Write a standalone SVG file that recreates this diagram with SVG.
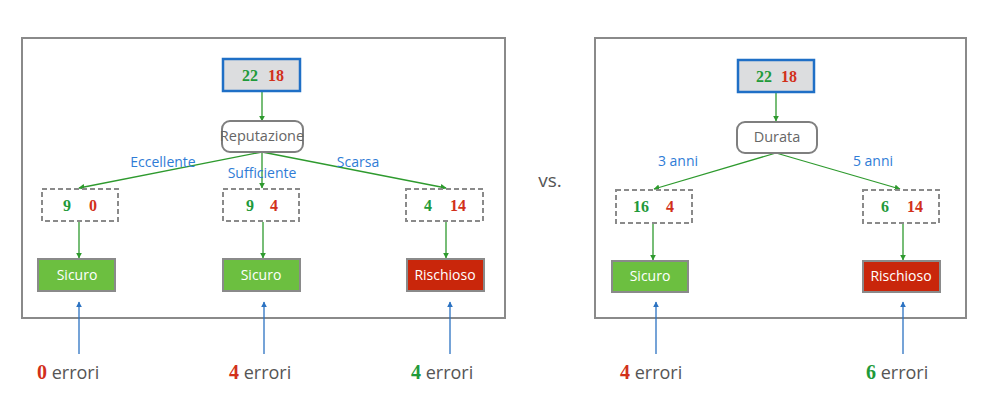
<svg xmlns="http://www.w3.org/2000/svg" width="989" height="417" viewBox="0 0 989 417">
<style>
.panel{fill:#fff;stroke:#8a8a8a;stroke-width:2}
.root{fill:#dcdddf;stroke:#1f6fc6;stroke-width:2.5}
.attr{fill:#fff;stroke:#7f7f7f;stroke-width:2}
.count{fill:#fff;stroke:#8a8a8a;stroke-width:2;stroke-dasharray:5,3}
.safe{fill:#6cbf40;stroke:#8a8a8a;stroke-width:2}
.risk{fill:#c9260b;stroke:#8a8a8a;stroke-width:2}
.num{font-family:"Liberation Serif",serif;font-weight:bold;font-size:16px;text-anchor:middle}
.g{fill:#1f9a3a}
.r{fill:#d2301a}
.lbl{font-family:"Open Sans","Liberation Sans",sans-serif;font-size:14px;fill:#2f7cd6;text-anchor:middle}
.attrt{font-family:"Open Sans","Liberation Sans",sans-serif;font-size:14.5px;fill:#666;text-anchor:middle}
.leaft{font-family:"Open Sans","Liberation Sans",sans-serif;font-size:14px;fill:#fff;text-anchor:middle}
.err{font-family:"Open Sans","Liberation Sans",sans-serif;font-size:18px;fill:#555}
.errn{font-family:"Liberation Serif",serif;font-weight:bold;font-size:20px}
.ge{stroke:#2e9a2e;stroke-width:1.3;fill:none;marker-end:url(#ga)}
.be{stroke:#2b72c2;stroke-width:1.3;fill:none;marker-end:url(#ba)}
</style>
<defs>
<marker id="ga" viewBox="0 0 10 10" refX="9" refY="5" markerWidth="6" markerHeight="6" markerUnits="userSpaceOnUse" orient="auto"><path d="M0,0L10,5L0,10z" fill="#2e9a2e"/></marker>
<marker id="ba" viewBox="0 0 10 10" refX="9" refY="5" markerWidth="6" markerHeight="6" markerUnits="userSpaceOnUse" orient="auto"><path d="M0,0L10,5L0,10z" fill="#2b72c2"/></marker>
</defs>
<rect width="989" height="417" fill="#fff"/>
<rect class="panel" x="22" y="38" width="483" height="280"/>
<rect class="panel" x="595" y="38" width="371" height="280"/>
<text x="550" y="187" font-family="Open Sans, Liberation Sans, sans-serif" font-size="19" fill="#555" text-anchor="middle">vs.</text>

<g id="connectors">
<line class="ge" x1="262" y1="92" x2="262" y2="121"/>
<line class="ge" x1="262" y1="152" x2="79" y2="188"/>
<line class="ge" x1="262" y1="152" x2="262" y2="188"/>
<line class="ge" x1="262" y1="152" x2="446" y2="188"/>
<line class="ge" x1="79" y1="222" x2="79" y2="258"/>
<line class="ge" x1="263" y1="222" x2="263" y2="258"/>
<line class="ge" x1="446" y1="222" x2="446" y2="258"/>
<line class="be" x1="79" y1="354" x2="79" y2="302"/>
<line class="be" x1="264" y1="354" x2="264" y2="302"/>
<line class="be" x1="450" y1="354" x2="450" y2="302"/>
<line class="ge" x1="776" y1="93" x2="776" y2="121"/>
<line class="ge" x1="776" y1="153" x2="654" y2="189"/>
<line class="ge" x1="776" y1="153" x2="900" y2="189"/>
<line class="ge" x1="653" y1="223" x2="653" y2="260"/>
<line class="ge" x1="903" y1="223" x2="903" y2="260"/>
<line class="be" x1="656" y1="354" x2="656" y2="302"/>
<line class="be" x1="903" y1="354" x2="903" y2="302"/>
<text class="lbl" x="163" y="167">Eccellente</text>
<text class="lbl" x="262" y="178">Sufficiente</text>
<text class="lbl" x="358" y="167">Scarsa</text>
<text class="lbl" x="678" y="166">3 anni</text>
<text class="lbl" x="873" y="166">5 anni</text>
</g>

<g id="root1"><rect class="root" x="223" y="59" width="77" height="32"/><text class="num g" x="250" y="81">22</text><text class="num r" x="276" y="81">18</text></g>
<g id="rep"><rect class="attr" x="222" y="121" width="81" height="31" rx="8"/><text class="attrt" x="262" y="141">Reputazione</text></g>
<g id="c1"><rect class="count" x="42" y="189" width="76" height="32"/><text class="num g" x="67" y="211">9</text><text class="num r" x="93" y="211">0</text></g>
<g id="c2"><rect class="count" x="223" y="189" width="76" height="32"/><text class="num g" x="250" y="211">9</text><text class="num r" x="274" y="211">4</text></g>
<g id="c3"><rect class="count" x="406" y="189" width="77" height="32"/><text class="num g" x="428" y="211">4</text><text class="num r" x="458" y="211">14</text></g>
<g id="l1"><rect class="safe" x="38" y="259" width="77" height="32"/><text class="leaft" x="77" y="280">Sicuro</text></g>
<g id="l2"><rect class="safe" x="223" y="259" width="77" height="32"/><text class="leaft" x="261" y="280">Sicuro</text></g>
<g id="l3"><rect class="risk" x="407" y="259" width="77" height="32"/><text class="leaft" x="445" y="280">Rischioso</text></g>
<g id="e1"><text x="37" y="379"><tspan class="errn r">0</tspan><tspan class="err"> errori</tspan></text></g>
<g id="e2"><text x="229" y="379"><tspan class="errn r">4</tspan><tspan class="err"> errori</tspan></text></g>
<g id="e3"><text x="411" y="379"><tspan class="errn g">4</tspan><tspan class="err"> errori</tspan></text></g>

<g id="root2"><rect class="root" x="738" y="60" width="76" height="32"/><text class="num g" x="764" y="82">22</text><text class="num r" x="789" y="82">18</text></g>
<g id="dur"><rect class="attr" x="737" y="122" width="80" height="31" rx="8"/><text class="attrt" x="777" y="142">Durata</text></g>
<g id="c4"><rect class="count" x="616" y="190" width="76" height="33"/><text class="num g" x="641" y="212">16</text><text class="num r" x="670" y="212">4</text></g>
<g id="c5"><rect class="count" x="863" y="190" width="76" height="33"/><text class="num g" x="885" y="212">6</text><text class="num r" x="915" y="212">14</text></g>
<g id="l4"><rect class="safe" x="612" y="261" width="76" height="31"/><text class="leaft" x="650" y="281">Sicuro</text></g>
<g id="l5"><rect class="risk" x="863" y="261" width="77" height="31"/><text class="leaft" x="901" y="281">Rischioso</text></g>
<g id="e4"><text x="620" y="379"><tspan class="errn r">4</tspan><tspan class="err"> errori</tspan></text></g>
<g id="e5"><text x="866" y="379"><tspan class="errn g">6</tspan><tspan class="err"> errori</tspan></text></g>
</svg>
